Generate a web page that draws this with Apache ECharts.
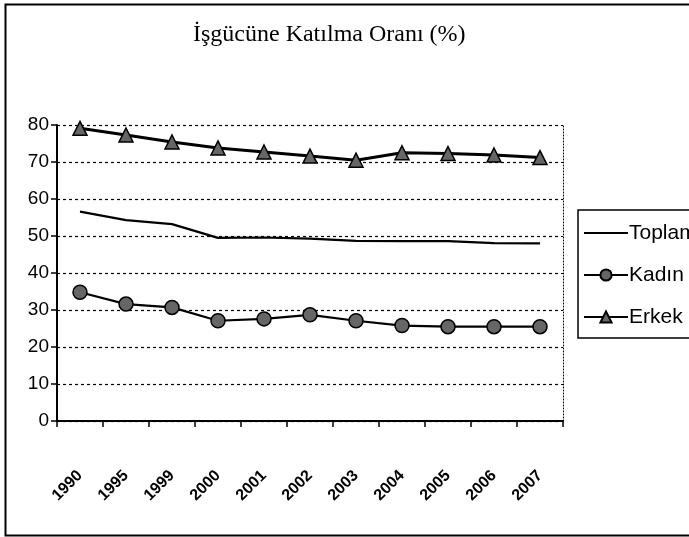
<!DOCTYPE html>
<html><head><meta charset="utf-8">
<script src="https://cdn.jsdelivr.net/npm/echarts@6/dist/echarts.min.js"></script>
<style>html,body{margin:0;padding:0;background:#fff}#c{width:689px;height:537px}</style>
</head><body><div id="c"></div>
<script>
const years = ['1990','1995','1999','2000','2001','2002','2003','2004','2005','2006','2007'];
const toplam = [56.6, 54.3, 53.2, 49.5, 49.6, 49.3, 48.7, 48.6, 48.6, 48.1, 48.0];
const kadin  = [34.8, 31.6, 30.7, 27.1, 27.6, 28.7, 27.1, 25.8, 25.5, 25.5, 25.5];
const erkek  = [79.1, 77.3, 75.4, 73.8, 72.7, 71.6, 70.5, 72.5, 72.3, 71.9, 71.2];
const yTicks = [0, 10, 20, 30, 40, 50, 60, 70, 80];

const chart = echarts.init(document.getElementById('c'));
const sans = 'Liberation Sans, Arial, sans-serif';
chart.setOption({
  backgroundColor: '#fff',
  animation: false,
  title: {
    text: 'İşgücüne Katılma Oranı (%)',
    left: 188, top: 18,
    textStyle: {fontFamily: 'Liberation Serif, Times New Roman, serif', fontSize: 24, fontWeight: 'normal', color: '#000'}
  },
  grid: {left: 57, right: 126, top: 125, bottom: 116, show: false},
  legend: {
    orient: 'vertical', left: 578, top: 210,
    itemWidth: 44, itemHeight: 14, itemGap: 20,
    padding: [12, 40, 10, 5],
    borderColor: '#000', borderWidth: 1.5,
    textStyle: {fontSize: 21, lineHeight: 22, fontFamily: sans, color: '#000', padding: [0, 0, 0, -4]},
    data: [
      {name: 'Toplam', itemStyle: {opacity: 0}},
      {name: 'Kadın'},
      {name: 'Erkek'}
    ]
  },
  xAxis: {
    type: 'category', data: years, boundaryGap: true,
    axisLine: {lineStyle: {color: '#000', width: 2}},
    axisTick: {show: true, length: 6, lineStyle: {color: '#000', width: 1.5}},
    axisLabel: {rotate: 45, fontSize: 16, margin: 52, fontWeight: 'bold', fontFamily: sans, color: '#000'},
    splitLine: {show: false}
  },
  yAxis: [{
    type: 'value', min: yTicks[0], max: yTicks[yTicks.length - 1], interval: 10,
    axisLine: {show: true, lineStyle: {color: '#000', width: 2}},
    axisTick: {show: true, length: 6, lineStyle: {color: '#000', width: 1.5}},
    axisLabel: {fontSize: 19, margin: 8, fontFamily: sans, color: '#000'},
    splitLine: {lineStyle: {color: '#000', type: [3, 3], width: 1.2}}
  }, {
    type: 'value', position: 'right', min: yTicks[0], max: yTicks[yTicks.length - 1], interval: 10,
    axisLine: {show: true, lineStyle: {color: '#000', type: [1, 2], width: 1}},
    axisTick: {show: false}, axisLabel: {show: false}, splitLine: {show: false}
  }],
  series: [
    {name: 'Toplam', type: 'line', data: toplam, symbol: 'none',
     lineStyle: {color: '#000', width: 2.2}, itemStyle: {color: '#000'}},
    {name: 'Kadın', type: 'line', data: kadin, symbol: 'circle', symbolSize: 14,
     lineStyle: {color: '#000', width: 2.2},
     itemStyle: {color: '#666', borderColor: '#000', borderWidth: 1.5}},
    {name: 'Erkek', type: 'line', data: erkek, symbol: 'triangle', symbolSize: 14,
     lineStyle: {color: '#000', width: 3},
     itemStyle: {color: '#666', borderColor: '#000', borderWidth: 1.5}}
  ],
  graphic: [
    {type: 'rect', left: 3, top: 2, shape: {width: 700, height: 531}, silent: true,
     style: {fill: 'none', stroke: '#000', lineWidth: 2}}
  ]
});
</script></body></html>
